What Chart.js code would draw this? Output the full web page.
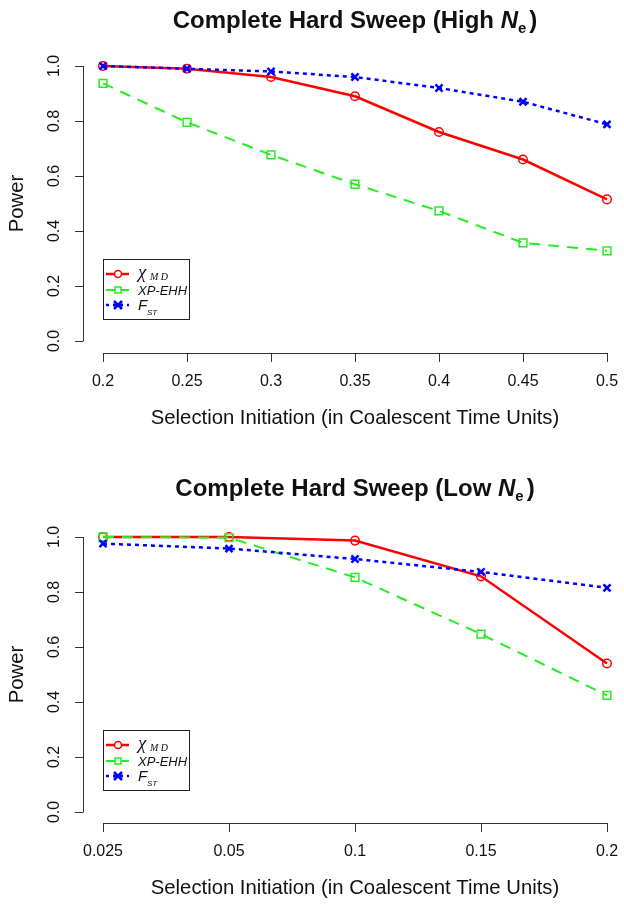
<!DOCTYPE html>
<html>
<head>
<meta charset="utf-8">
<script src="https://cdn.jsdelivr.net/npm/chart.js@4.4.0/dist/chart.umd.min.js"></script>
<style>
  body { margin: 0; background: #fff; }
  canvas { display: block; }
</style>
</head>
<body>
<canvas id="high" width="624" height="454"></canvas>
<canvas id="low" width="624" height="454"></canvas>
<script>
// values
const highNeLabels = ['0.2', '0.25', '0.3', '0.35', '0.4', '0.45', '0.5'];
const highNeXmd = [1.0, 0.99, 0.96, 0.89, 0.76, 0.66, 0.515];
const highNeXpehh = [0.937, 0.795, 0.677, 0.57, 0.473, 0.357, 0.328];
const highNeFst = [1.0, 0.99, 0.98, 0.96, 0.92, 0.87, 0.788];

const lowNeLabels = ['0.025', '0.05', '0.1', '0.15', '0.2'];
const lowNeXmd = [1.0, 1.0, 0.987, 0.857, 0.54];
const lowNeXpehh = [1.0, 0.998, 0.853, 0.647, 0.424];
const lowNeFst = [0.976, 0.958, 0.92, 0.873, 0.815];

const yTicks = [0, 0.2, 0.4, 0.6, 0.8, 1.0];
const yTickLabels = ['0.0', '0.2', '0.4', '0.6', '0.8', '1.0'];

const SANS = '"Liberation Sans", Arial, sans-serif';
const SERIF = '"Liberation Serif", "DejaVu Serif", serif';
const RED = '#ff0000', GREEN = '#22ee22', BLUE = '#0000ff';

// R style axes, title and legend drawn around the chart area
const rFrame = {
    id: 'rFrame',
    afterDraw(chart, args, opts) {
        const ctx = chart.ctx;
        const xs = chart.scales.x, ys = chart.scales.y;
        const area = chart.chartArea;
        ctx.save();
        ctx.strokeStyle = '#333';
        ctx.fillStyle = '#111';
        ctx.lineWidth = 1;

        // y axis
        const ax = area.left - 20;
        ctx.beginPath();
        ctx.moveTo(ax + 0.5, ys.getPixelForValue(0));
        ctx.lineTo(ax + 0.5, ys.getPixelForValue(1));
        yTicks.forEach(v => {
            const py = Math.round(ys.getPixelForValue(v)) + 0.5;
            ctx.moveTo(ax + 0.5, py);
            ctx.lineTo(ax - 8, py);
        });
        ctx.stroke();
        ctx.font = '16px ' + SANS;
        ctx.textAlign = 'center';
        ctx.textBaseline = 'middle';
        yTicks.forEach((v, i) => {
            ctx.save();
            ctx.translate(55, ys.getPixelForValue(v));
            ctx.rotate(-Math.PI / 2);
            ctx.fillText(yTickLabels[i], 0, 0);
            ctx.restore();
        });

        // x axis
        const ay = area.bottom + opts.axisGap;
        const n = chart.data.labels.length;
        ctx.beginPath();
        ctx.moveTo(xs.getPixelForValue(0), ay + 0.5);
        ctx.lineTo(xs.getPixelForValue(n - 1), ay + 0.5);
        for (let i = 0; i < n; i++) {
            const px = Math.round(xs.getPixelForValue(i)) + 0.5;
            ctx.moveTo(px, ay);
            ctx.lineTo(px, ay + 9);
        }
        ctx.stroke();
        for (let i = 0; i < n; i++) {
            ctx.fillText(chart.data.labels[i], xs.getPixelForValue(i), ay + 29);
        }

        // axis titles
        ctx.font = '20.3px ' + SANS;
        const cx = (area.left + area.right) / 2;
        ctx.fillText('Selection Initiation (in Coalescent Time Units)', cx, ay + 65);
        ctx.save();
        ctx.translate(17, (area.top + area.bottom) / 2);
        ctx.rotate(-Math.PI / 2);
        ctx.fillText('Power', 0, 0);
        ctx.restore();

        // main title with N subscript e
        const ty = opts.titleY;
        const part1 = 'Complete Hard Sweep (' + opts.titleWord + ' ';
        ctx.textAlign = 'left';
        ctx.font = 'bold 24px ' + SANS;
        const w1 = ctx.measureText(part1).width;
        ctx.font = 'italic bold 24px ' + SANS;
        const wN = ctx.measureText('N').width;
        ctx.font = 'bold 15px ' + SANS;
        const wE = ctx.measureText('e').width;
        ctx.font = 'bold 24px ' + SANS;
        const wP = ctx.measureText(')').width;
        const total = w1 + wN + wE + 3 + wP;
        let tx = cx - total / 2;
        ctx.fillText(part1, tx, ty);
        tx += w1;
        ctx.font = 'italic bold 24px ' + SANS;
        ctx.fillText('N', tx, ty);
        tx += wN;
        ctx.font = 'bold 15px ' + SANS;
        ctx.fillText('e', tx, ty + 8);
        tx += wE + 3;
        ctx.font = 'bold 24px ' + SANS;
        ctx.fillText(')', tx, ty);

        // legend
        const lx = area.left, ly = area.top + 193;
        ctx.strokeStyle = '#222';
        ctx.strokeRect(lx + 0.5, ly + 0.5, 86, 60);
        const rows = [ly + 15, ly + 31, ly + 46];
        chart.data.datasets.forEach((ds, i) => {
            const ry = rows[i];
            ctx.save();
            ctx.strokeStyle = ds.borderColor;
            ctx.lineWidth = ds.borderWidth;
            ctx.setLineDash(i === 2 ? [3, 4] : []);
            ctx.beginPath();
            ctx.moveTo(lx + 3, ry);
            ctx.lineTo(lx + 26, ry);
            ctx.stroke();
            ctx.setLineDash([]);
            ctx.lineWidth = 1.5;
            const mx = lx + 15;
            ctx.beginPath();
            if (ds.pointStyle === 'circle') {
                ctx.fillStyle = '#fff';
                ctx.arc(mx, ry, 3.5, 0, Math.PI * 2);
                ctx.fill();
            } else if (ds.pointStyle === 'rect') {
                ctx.fillStyle = '#fff';
                ctx.rect(mx - 3, ry - 3, 6, 6);
                ctx.fill();
            } else {
                ctx.lineWidth = 2.5;
                ctx.moveTo(mx - 4, ry - 4); ctx.lineTo(mx + 4, ry + 4);
                ctx.moveTo(mx + 4, ry - 4); ctx.lineTo(mx - 4, ry + 4);
                ctx.moveTo(mx - 5, ry); ctx.lineTo(mx + 5, ry);
            }
            ctx.stroke();
            ctx.restore();
        });
        const txl = lx + 35;
        ctx.fillStyle = '#111';
        ctx.textBaseline = 'alphabetic';
        ctx.font = 'italic 19px ' + SERIF;
        ctx.fillText('\u03c7', txl, rows[0] + 4);
        ctx.font = 'italic 10px ' + SERIF;
        ctx.fillText('M D', txl + 12, rows[0] + 6);
        ctx.font = 'italic 13px ' + SANS;
        ctx.fillText('XP-EHH', txl, rows[1] + 5);
        ctx.font = 'italic 15px ' + SANS;
        ctx.fillText('F', txl, rows[2] + 5);
        ctx.font = 'italic 8px ' + SANS;
        ctx.fillText('ST', txl + 9, rows[2] + 10);
        ctx.restore();
    }
};

function makeChart(id, labels, xmd, xpehh, fst, frame, pad) {
    const data = {
        labels: labels,
        datasets: [
            {
                label: 'XMD',
                data: xmd,
                borderColor: RED,
                borderWidth: 2.5,
                pointStyle: 'circle',
                pointRadius: 4.3,
                pointBorderWidth: 1.5,
                pointBackgroundColor: 'rgba(0,0,0,0)',
                order: 2,
                clip: false
            },
            {
                label: 'XP-EHH',
                data: xpehh,
                borderColor: GREEN,
                borderWidth: 2,
                borderDash: [11, 8],
                pointStyle: 'rect',
                pointRadius: 5.5,
                pointBorderWidth: 1.5,
                pointBackgroundColor: 'rgba(0,0,0,0)',
                order: 1,
                clip: false
            },
            {
                label: 'FST',
                data: fst,
                borderColor: BLUE,
                borderWidth: 2.5,
                borderDash: [4, 4],
                pointStyle: 'crossRot',
                pointRadius: 5,
                pointBorderWidth: 2.5,
                order: 0,
                clip: false
            }
        ]
    };
    return new Chart(document.getElementById(id).getContext('2d'), {
        type: 'line',
        data: data,
        plugins: [rFrame],
        options: {
            responsive: false,
            animation: false,
            layout: { padding: pad },
            elements: { line: { tension: 0 } },
            scales: {
                x: { type: 'category', offset: false, display: false },
                y: { min: 0, max: 1, display: false }
            },
            plugins: {
                legend: { display: false },
                tooltip: { enabled: false },
                rFrame: frame
            }
        }
    });
}

makeChart('high', highNeLabels, highNeXmd, highNeXpehh, highNeFst,
    { titleWord: 'High', titleY: 21, axisGap: 12 },
    { top: 66, bottom: 113, left: 103, right: 17 });
makeChart('low', lowNeLabels, lowNeXmd, lowNeXpehh, lowNeFst,
    { titleWord: 'Low', titleY: 35, axisGap: 11 },
    { top: 83, bottom: 96, left: 103, right: 17 });
</script>
</body>
</html>
